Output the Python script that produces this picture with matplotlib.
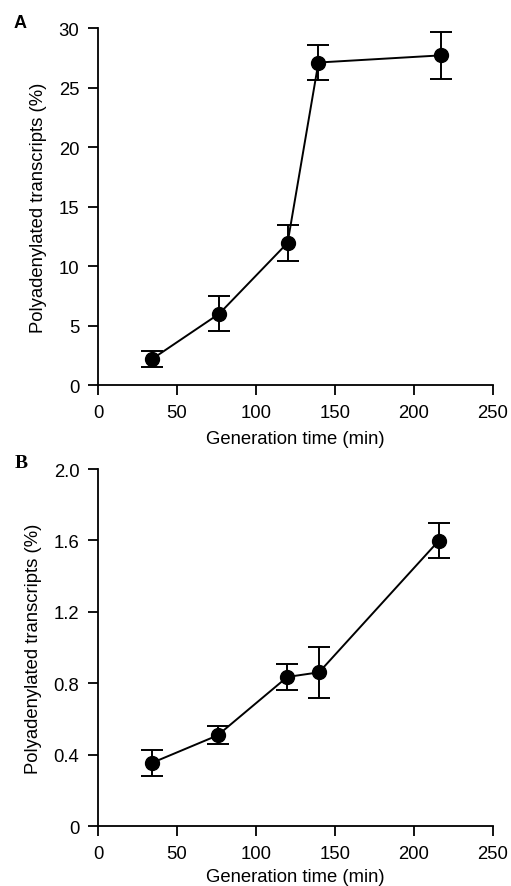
import matplotlib
matplotlib.use("Agg")
import matplotlib.pyplot as plt

# Panel A data
gen_time_a = [34.4, 76.8, 120.0, 139.5, 216.9]
poly_a = [2.2, 6.0, 11.95, 27.1, 27.7]
err_a = [0.7, 1.5, 1.5, 1.5, 2.0]

# Panel B data
gen_time_b = [34.4, 75.7, 119.8, 139.9, 215.6]
poly_b = [0.356, 0.509, 0.836, 0.862, 1.598]
err_b = [0.073, 0.05, 0.072, 0.144, 0.098]

xticks = [0, 50, 100, 150, 200, 250]
yticks_a = [0, 5, 10, 15, 20, 25, 30]
yticks_b = [0, 0.4, 0.8, 1.2, 1.6, 2.0]
ytick_labels_b = ["0", "0.4", "0.8", "1.2", "1.6", "2.0"]

plt.rcParams['font.family'] = ['Liberation Sans', 'DejaVu Sans']

fig = plt.figure(figsize=(5.11, 8.87), dpi=100)
ax_a = fig.add_axes([0.1918, 0.5648, 0.7730, 0.4025])
ax_b = fig.add_axes([0.1918, 0.0673, 0.7730, 0.4028])

FS = 13.3

def style(ax, x, y, e, yticks, ylim, yticklabels=None, xpad=4):
    ax.errorbar(x, y, yerr=e, fmt='o-', color='black', lw=1.4,
                markersize=10, capsize=8, capthick=1.4, elinewidth=1.4,
                clip_on=False, zorder=3)
    ax.set_xlim(0, 250)
    ax.set_ylim(*ylim)
    ax.set_xticks(xticks)
    ax.set_yticks(yticks)
    if yticklabels is not None:
        ax.set_yticklabels(yticklabels)
    for s in ['top', 'right']:
        ax.spines[s].set_visible(False)
    for s in ['left', 'bottom']:
        ax.spines[s].set_linewidth(1.3)
    ax.tick_params(direction='out', length=7.5, width=1.3, labelsize=FS, pad=6)
    ax.set_xlabel('Generation time (min)', fontsize=FS, labelpad=xpad)
    ax.set_ylabel('Polyadenylated transcripts (%)', fontsize=FS, labelpad=8)

style(ax_a, gen_time_a, poly_a, err_a, yticks_a, (0, 30), xpad=7)
style(ax_b, gen_time_b, poly_b, err_b, yticks_b, (0, 2.0), ytick_labels_b, xpad=4)

fig.text(14/511, 1 - 23/887, 'A', family='Liberation Sans', fontweight='bold',
         fontsize=13, ha='left', va='center')
fig.text(15/511, 1 - 463/887, 'B', family='Liberation Serif', fontweight='bold',
         fontsize=14, ha='left', va='center')

fig.savefig('out.png', dpi=100)
